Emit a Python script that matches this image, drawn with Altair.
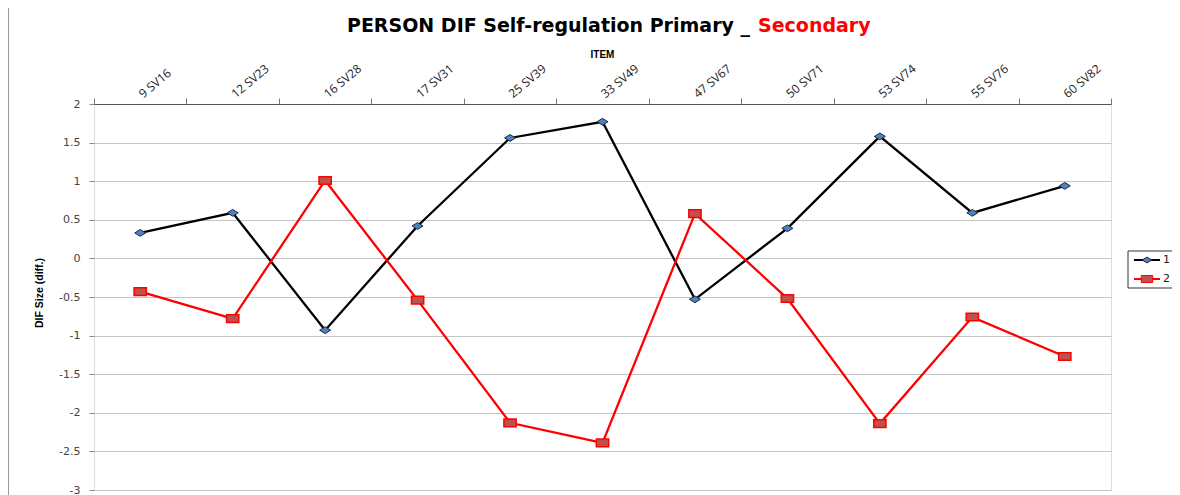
import altair as alt
import pandas as pd

# ---- data ----
items = ["9 SV16", "12 SV23", "16 SV28", "17 SV31", "25 SV39", "33 SV49",
         "47 SV67", "50 SV71", "53 SV74", "55 SV76", "60 SV82"]
series_names = ["1", "2"]
dif_1 = [0.33, 0.59, -0.93, 0.42, 1.56, 1.77, -0.53, 0.39, 1.58, 0.59, 0.94]
dif_2 = [-0.43, -0.78, 1.01, -0.54, -2.13, -2.39, 0.58, -0.52, -2.14, -0.76, -1.27]
y_ticks = [2, 1.5, 1, 0.5, 0, -0.5, -1, -1.5, -2, -2.5, -3]

title_main = "PERSON DIF Self-regulation Primary _"
title_red = "Secondary"
x_title = "ITEM"
y_title = "DIF Size (diff.)"

df = pd.DataFrame({
    "item": items * 2,
    "series": [series_names[0]] * len(items) + [series_names[1]] * len(items),
    "dif": dif_1 + dif_2,
})

W, H = 1017, 386

diamond = "M-1,0L0,-0.62L1,0L0,0.62Z"
rect = "M-1,-0.62L1,-0.62L1,0.62L-1,0.62Z"

x_enc = alt.X(
    "item:N", sort=items,
    scale=alt.Scale(type="band", domain=items, paddingInner=0, paddingOuter=0),
    axis=alt.Axis(orient="top", title=None, labelAngle=-40, tickBand="extent",
                  labelFont="Open Sans", labelFontSize=12, labelColor="#222",
                  labelAlign="left", labelBaseline="middle", labelPadding=3,
                  domainColor="#555", tickColor="#777", tickSize=6, grid=False),
)
y_enc = alt.Y(
    "dif:Q",
    scale=alt.Scale(domain=[-3, 2], nice=False, zero=False),
    axis=alt.Axis(values=y_ticks, title=None, grid=True, gridColor="#c4c4c4",
                  gridWidth=1, tickSize=5, tickColor="#888", labelPadding=9,
                  labelFont="DejaVu Sans", labelFontSize=11, labelColor="#444",
                  labelExpr="toString(datum.value)", domain=False),
)

line_colors = alt.Scale(domain=series_names, range=["#000000", "#ff0000"])

lines = alt.Chart(df).mark_line(strokeWidth=2.3).encode(
    x=x_enc, y=y_enc,
    color=alt.Color("series:N", scale=line_colors, legend=None),
)

pts1 = alt.Chart(df).transform_filter(alt.datum.series == series_names[0]).mark_point(
    shape=diamond, size=121, filled=True, fill="#4f81bd", stroke="#1a2a40",
    strokeWidth=1, opacity=1
).encode(x=x_enc, y=y_enc)

pts2 = alt.Chart(df).transform_filter(alt.datum.series == series_names[1]).mark_point(
    shape=rect, size=150, filled=True, fill="#c0504d", stroke="#ff0000",
    strokeWidth=1.5, opacity=1
).encode(x=x_enc, y=y_enc)

one = pd.DataFrame({"k": [0]})

# title (two colours)
t1 = alt.Chart(one).mark_text(
    text=title_main, font="DejaVu Sans", fontSize=19, fontWeight="bold",
    align="right", baseline="alphabetic", color="#000"
).encode(x=alt.value(656), y=alt.value(-72))
t2 = alt.Chart(one).mark_text(
    text=title_red, font="DejaVu Sans", fontSize=19, fontWeight="bold",
    align="left", baseline="alphabetic", color="#ff0000"
).encode(x=alt.value(664), y=alt.value(-72))

tx = alt.Chart(one).mark_text(
    text=x_title, font="Liberation Sans", fontSize=10, fontWeight="bold",
    align="center", baseline="middle", color="#000"
).encode(x=alt.value(W / 2), y=alt.value(-49))

ty = alt.Chart(one).mark_text(
    text=y_title, font="Liberation Sans", fontSize=10.5, fontWeight="bold",
    align="center", baseline="middle", angle=270, color="#000"
).encode(x=alt.value(-54), y=alt.value(H / 2 - 4))

# left page border line
border = alt.Chart(one).mark_rule(color="#999", strokeWidth=1).encode(
    x=alt.value(-85.5), y=alt.value(-104), y2=alt.value(H + 6)
)

# manual legend
leg_box = alt.Chart(one).mark_rect(fill="white", stroke="#333", strokeWidth=1).encode(
    x=alt.value(1034), x2=alt.value(1090), y=alt.value(147), y2=alt.value(184)
)
leg_layers = [leg_box]
leg_y = [156, 175]
leg_line_col = ["#000000", "#ff0000"]
leg_shape = [diamond, rect]
leg_fill = ["#4f81bd", "#c0504d"]
leg_stroke = ["#1a2a40", "#ff0000"]
leg_size = [90, 130]
for i, name in enumerate(series_names):
    leg_layers.append(alt.Chart(one).mark_rule(color=leg_line_col[i], strokeWidth=2).encode(
        x=alt.value(1040), x2=alt.value(1066), y=alt.value(leg_y[i])))
    leg_layers.append(alt.Chart(one).mark_point(
        shape=leg_shape[i], size=leg_size[i], filled=True, fill=leg_fill[i],
        stroke=leg_stroke[i], strokeWidth=1, opacity=1
    ).encode(x=alt.value(1053), y=alt.value(leg_y[i])))
    leg_layers.append(alt.Chart(one).mark_text(
        text=name, font="DejaVu Sans", fontSize=11, align="left", baseline="middle",
        color="#222"
    ).encode(x=alt.value(1069), y=alt.value(leg_y[i])))

chart = alt.layer(
    lines, pts1, pts2, t1, t2, tx, ty, border, *leg_layers
).properties(
    width=W, height=H,
    autosize=alt.AutoSizeParams(type="none"),
    padding={"left": 86, "top": 96, "right": 61, "bottom": 5},
).configure_view(
    stroke="#000", strokeWidth=1.5
).configure(background="white")

chart.save("out.html", embed_options={"renderer": "svg", "actions": False})
